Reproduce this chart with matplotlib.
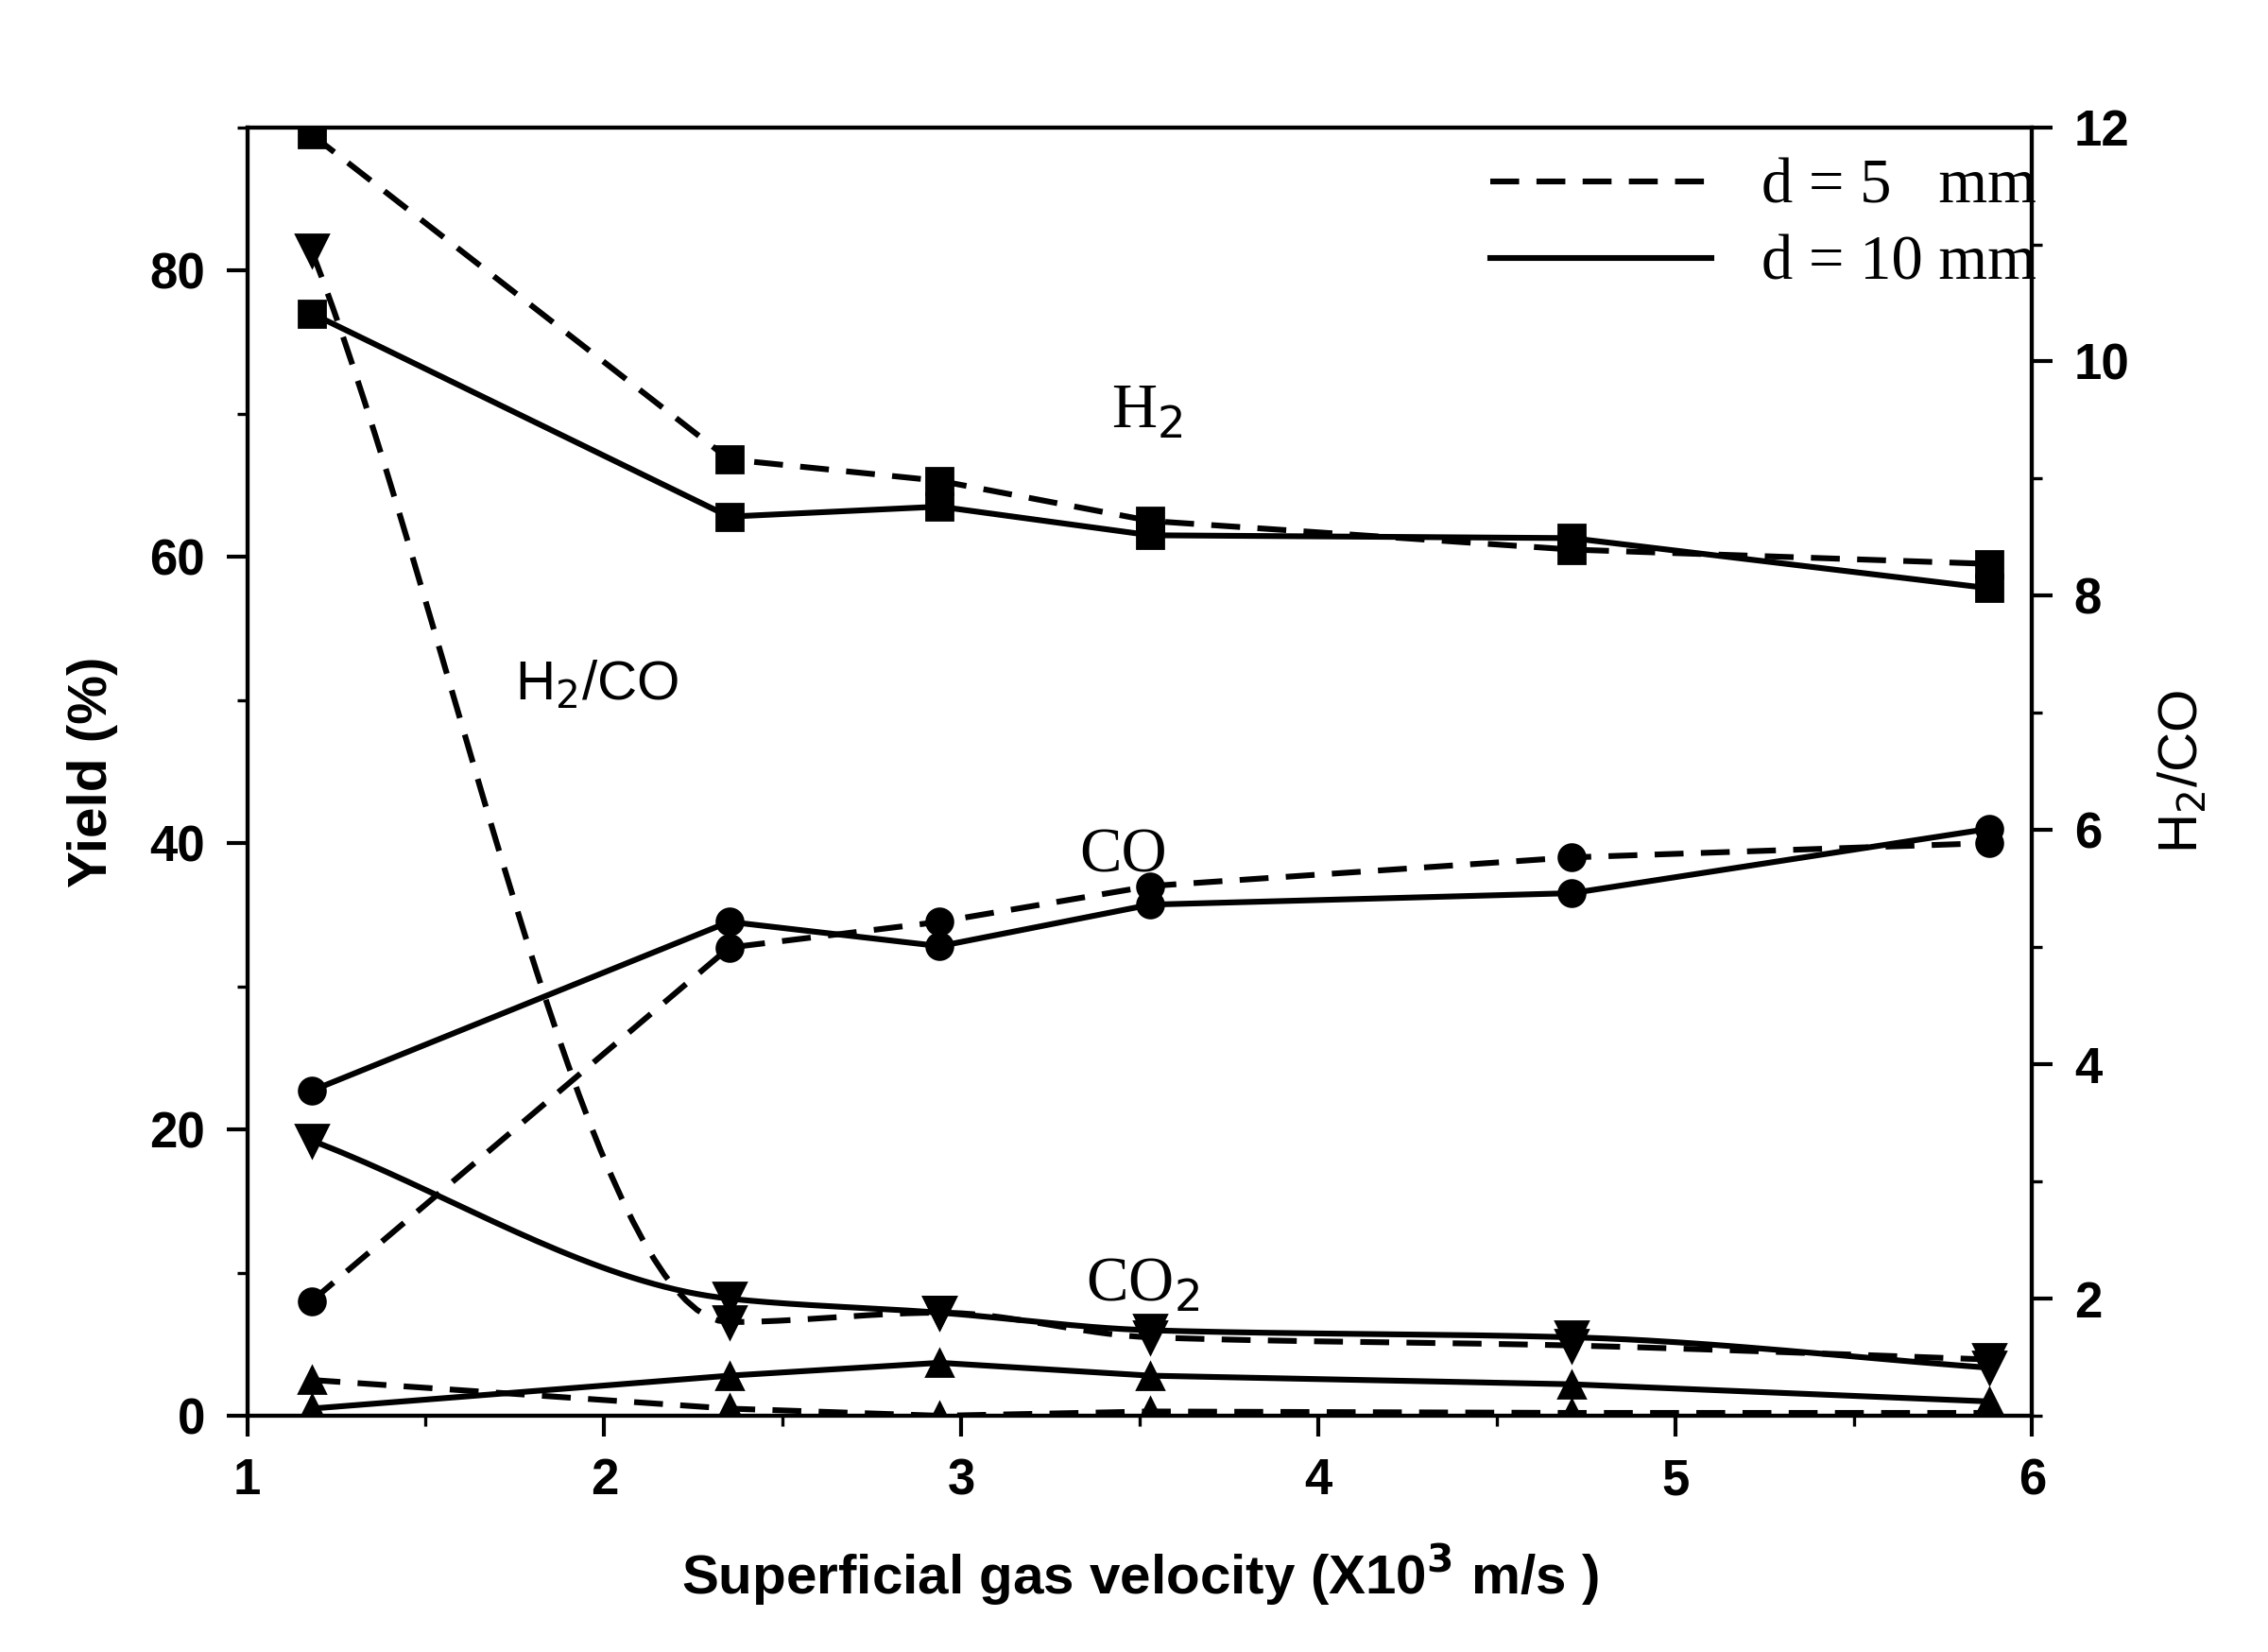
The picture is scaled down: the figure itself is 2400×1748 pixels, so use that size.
import matplotlib.pyplot as plt
import numpy as np

v = [1.18, 2.35, 2.94, 3.53, 4.71, 5.88]

h2_5 = [89.5, 66.8, 65.3, 62.5, 60.5, 59.5]
h2_10 = [77.0, 62.8, 63.5, 61.5, 61.3, 57.8]
co_5 = [8.0, 32.7, 34.5, 37.0, 39.0, 40.0]
co_10 = [22.7, 34.5, 32.8, 35.7, 36.5, 41.0]
co2_5 = [2.5, 0.5, 0.0, 0.3, 0.2, 0.2]
co2_10 = [0.5, 2.8, 3.7, 2.8, 2.2, 1.0]
ratio_5 = [10.95, 1.8, 1.88, 1.67, 1.6, 1.48]
ratio_10 = [3.35, 2.0, 1.88, 1.73, 1.67, 1.41]


def smooth(x, y, n=40):
    # monotone cubic (PCHIP) curve through the points, for drawing only
    x = np.asarray(x, float); y = np.asarray(y, float)
    h = np.diff(x); d = np.diff(y) / h
    m = np.zeros_like(y)
    for k in range(1, len(x) - 1):
        if d[k-1] * d[k] > 0:
            w1 = 2*h[k] + h[k-1]; w2 = h[k] + 2*h[k-1]
            m[k] = (w1 + w2) / (w1/d[k-1] + w2/d[k])
    m[0] = d[0]; m[-1] = d[-1]
    xs, ys = [], []
    t = np.linspace(0, 1, n)
    for k in range(len(x) - 1):
        h00 = 2*t**3 - 3*t**2 + 1; h10 = t**3 - 2*t**2 + t
        h01 = -2*t**3 + 3*t**2; h11 = t**3 - t**2
        xs.extend(x[k] + t*h[k])
        ys.extend(h00*y[k] + h10*h[k]*m[k] + h01*y[k+1] + h11*h[k]*m[k+1])
    return xs, ys


plt.rcParams['font.family'] = ['Liberation Sans', 'DejaVu Sans']
fig = plt.figure(figsize=(12, 8.74), dpi=200)
ax = fig.add_axes([0.109, 0.143, 0.787, 0.78])
ax2 = ax.twinx()

lw = 2.2
ms = 10
for y5, y10, m in ((h2_5, h2_10, 's'), (co_5, co_10, 'o'), (co2_5, co2_10, '^')):
    ax.plot(v, y5, 'k--', marker=m, lw=lw, ms=ms, dashes=(5, 3))
    ax.plot(v, y10, 'k-', marker=m, lw=lw, ms=ms)

for y, ls in ((ratio_5, '--'), (ratio_10, '-')):
    sx, sy = smooth(v, y)
    if ls == '--':
        ax2.plot(sx, sy, 'k--', lw=lw, dashes=(5, 3))
    else:
        ax2.plot(sx, sy, 'k-', lw=lw)
    ax2.plot(v, y, 'kv', ms=ms + 2)

ax.set_xlim(1, 6)
ax.set_ylim(0, 90)
ax2.set_ylim(1, 12)
ax.set_xticks([1, 2, 3, 4, 5, 6])
ax.set_xticks(np.arange(1.5, 6, 1), minor=True)
ax.set_yticks([0, 20, 40, 60, 80])
ax.set_yticks([10, 30, 50, 70, 90], minor=True)
ax2.set_yticks([2, 4, 6, 8, 10, 12])
ax2.set_yticks([1, 3, 5, 7, 9, 11], minor=True)
for a in (ax, ax2):
    a.tick_params(which='major', length=8, width=1.5, labelsize=19, pad=8)
    a.tick_params(which='minor', length=4, width=1.2)
    for s in a.spines.values():
        s.set_linewidth(1.5)
    for lab in a.get_xticklabels() + a.get_yticklabels():
        lab.set_fontweight('bold')

ax.set_xlabel('Superficial gas velocity (X10$^{\\mathbf{3}}$ m/s )', fontsize=21,
              fontweight='bold', labelpad=14)
ax.set_ylabel('Yield (%)', fontsize=21, fontweight='bold', labelpad=12)
ax2.set_ylabel('H$_2$/CO', fontsize=21, labelpad=10)

serif = dict(family='Liberation Serif', fontsize=24)
ax.text(3.42, 69, 'H$_2$', **serif)
ax.text(3.33, 38, 'CO', **serif)
ax.text(3.35, 8, 'CO$_2$', **serif)
ax.text(1.75, 50, 'H$_2$/CO', fontsize=21)

ax.plot([], [], 'k--', lw=lw, dashes=(5, 3), label='d = 5   mm')
ax.plot([], [], 'k-', lw=lw, label='d = 10 mm')
ax.legend(loc='upper right', frameon=False, handlelength=3.5,
          prop={'family': 'Liberation Serif', 'size': 24}, borderaxespad=0.1,
          bbox_to_anchor=(1.02, 1.0), labelspacing=0.3)

fig.savefig('out.png', dpi=200)
